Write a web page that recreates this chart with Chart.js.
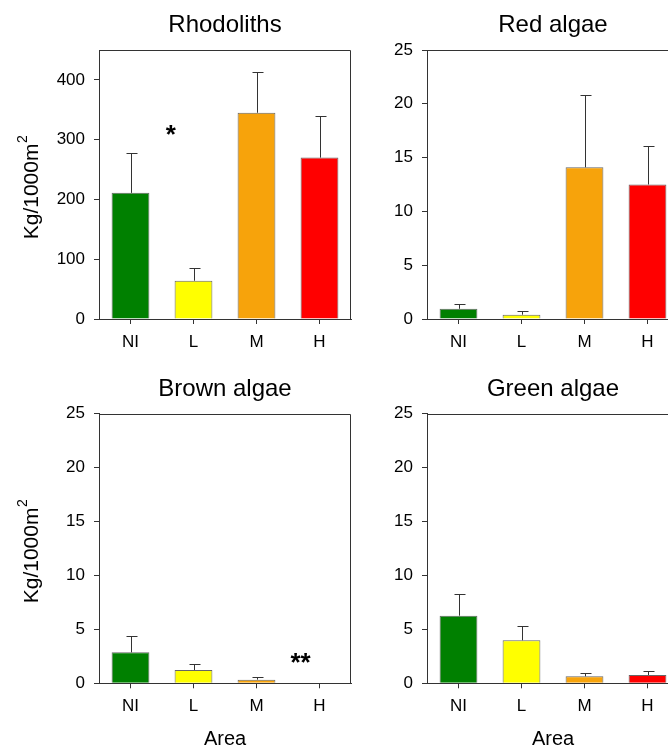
<!DOCTYPE html>
<html><head><meta charset="utf-8">
<script src="https://cdn.jsdelivr.net/npm/chart.js@4/dist/chart.umd.min.js"></script>
<style>
html,body{margin:0;padding:0;background:#fff;overflow:hidden;width:668px;height:749px;position:relative;}
canvas{position:absolute;}
</style></head><body>
<canvas id="c1" width="360" height="370" style="left:0;top:0"></canvas>
<canvas id="c2" width="354" height="370" style="left:334px;top:0"></canvas>
<canvas id="c3" width="360" height="379" style="left:0;top:370px"></canvas>
<canvas id="c4" width="354" height="379" style="left:334px;top:370px"></canvas>
<script>
const areas = ['NI', 'L', 'M', 'H'];
const barColors = ['#008000', '#FFFF00', '#F7A30B', '#FF0000'];
const rhodolithsMean = [211, 64, 345, 270];
const rhodolithsSE = [66, 21, 68, 70];
const redMean = [0.95, 0.4, 14.1, 12.5];
const redSE = [0.45, 0.37, 6.7, 3.6];
const brownMean = [2.87, 1.23, 0.34, 0];
const brownSE = [1.52, 0.59, 0.22, 0];
const greenMean = [6.27, 3.99, 0.65, 0.77];
const greenSE = [2.01, 1.32, 0.30, 0.40];
const rhodolithsTicks = [0, 100, 200, 300, 400];
const algaeTicks = [0, 5, 10, 15, 20, 25];
const rhodolithsStars = [{ x: 0.64, y: 306, text: '*' }];
const brownStars = [{ x: 2.70, y: 1.8, text: '**' }];
const yTitleMain = 'Kg/1000m';
const yTitleSup = '2';

const FAMILY = '"Liberation Sans", Arial, Helvetica, sans-serif';
const AXIS = '#333333';

const extras = {
  id: 'extras',
  afterDatasetsDraw(chart, args, opts) {
    const { ctx, chartArea } = chart;
    const xs = chart.scales.x, ys = chart.scales.y;
    const ds = chart.data.datasets[0];
    const meta = chart.getDatasetMeta(0);
    ctx.save();
    // frame top and right
    ctx.strokeStyle = AXIS;
    ctx.lineWidth = 1;
    ctx.beginPath();
    const L = Math.round(chartArea.left) + 0.5, T = Math.round(chartArea.top) + 0.5;
    const R = Math.round(chartArea.right) - 0.5, B = Math.round(chartArea.bottom) + 0.5;
    ctx.moveTo(L, T); ctx.lineTo(R, T); ctx.lineTo(R, B);
    ctx.stroke();
    // error bars
    ctx.strokeStyle = '#333';
    meta.data.forEach((bar, i) => {
      const e = ds.errors[i];
      if (!e) return;
      const x = Math.round(bar.x) + 0.5;
      const y1 = Math.round(ys.getPixelForValue(ds.data[i] + e)) + 0.5;
      ctx.beginPath();
      ctx.moveTo(x, bar.y);
      ctx.lineTo(x, y1);
      ctx.moveTo(x - 5, y1);
      ctx.lineTo(x + 6, y1);
      ctx.stroke();
    });
    // significance marks
    (opts.stars || []).forEach(s => {
      ctx.fillStyle = '#000';
      ctx.font = 'bold 26px ' + FAMILY;
      ctx.textAlign = 'center';
      ctx.textBaseline = 'middle';
      ctx.fillText(s.text, xs.getPixelForValue(s.x), ys.getPixelForValue(s.y));
    });
    // y axis title with superscript
    if (opts.yTitle) {
      const cy = (chartArea.top + chartArea.bottom) / 2 + 3;
      ctx.translate(38, cy);
      ctx.rotate(-Math.PI / 2);
      ctx.fillStyle = '#000';
      ctx.textAlign = 'left';
      ctx.textBaseline = 'alphabetic';
      ctx.font = '21px ' + FAMILY;
      const w1 = ctx.measureText(yTitleMain).width;
      ctx.font = '14px ' + FAMILY;
      const w2 = ctx.measureText(yTitleSup).width;
      const start = -(w1 + w2) / 2;
      ctx.font = '21px ' + FAMILY;
      ctx.fillText(yTitleMain, start, 0);
      ctx.font = '14px ' + FAMILY;
      ctx.fillText(yTitleSup, start + w1 + 0.5, -11);
    }
    ctx.restore();
  }
};

function makeChart(id, c) {
  return new Chart(document.getElementById(id), {
    type: 'bar',
    data: {
      labels: areas,
      datasets: [{
        data: c.mean,
        errors: c.se,
        backgroundColor: barColors,
        borderColor: '#666666',
        borderWidth: 1,
        barPercentage: 0.6,
        categoryPercentage: 1.0
      }]
    },
    plugins: [extras],
    options: {
      responsive: false,
      animation: false,
      devicePixelRatio: 1,
      layout: { padding: { left: 0, right: 9, top: 0, bottom: 0 } },
      plugins: {
        legend: { display: false },
        tooltip: { enabled: false },
        title: {
          display: true, text: c.title, color: '#000', fullSize: false,
          font: { size: 24, weight: 'normal', family: FAMILY, lineHeight: 1.2 },
          padding: { top: c.tp, bottom: c.bp }
        },
        extras: { stars: c.stars, yTitle: c.yTitle }
      },
      scales: {
        x: {
          afterFit: ax => { ax.height = c.xH; },
          grid: { offset: false, drawOnChartArea: false, drawTicks: true, tickLength: 5, color: AXIS },
          border: { display: true, color: AXIS, width: 1 },
          ticks: { padding: 8, color: '#000', font: { size: 17, family: FAMILY } },
          title: {
            display: c.xTitle, text: 'Area', color: '#000',
            font: { size: 20, family: FAMILY, lineHeight: 1 },
            padding: { top: 0, bottom: 0 }
          }
        },
        y: {
          min: 0, max: c.yMax,
          afterBuildTicks: ax => { ax.ticks = c.ticks.map(v => ({ value: v })); },
          afterFit: ax => { ax.width = c.yW; },
          grid: { drawOnChartArea: false, drawTicks: true, tickLength: 5, color: AXIS },
          border: { display: true, color: AXIS, width: 1 },
          ticks: { padding: 9, color: '#000', font: { size: 17, family: FAMILY } }
        }
      }
    }
  });
}

makeChart('c1', { title: 'Rhodoliths', mean: rhodolithsMean, se: rhodolithsSE, ticks: rhodolithsTicks, yMax: 450,
  yW: 99, xH: 51, tp: 11, bp: 10.2, yTitle: true, xTitle: false, stars: rhodolithsStars });
makeChart('c2', { title: 'Red algae', mean: redMean, se: redSE, ticks: algaeTicks, yMax: 25,
  yW: 93, xH: 51, tp: 11, bp: 10.2, yTitle: false, xTitle: false, stars: [] });
makeChart('c3', { title: 'Brown algae', mean: brownMean, se: brownSE, ticks: algaeTicks, yMax: 25,
  yW: 99, xH: 65.7, tp: 5, bp: 9.9, yTitle: true, xTitle: true, stars: brownStars });
makeChart('c4', { title: 'Green algae', mean: greenMean, se: greenSE, ticks: algaeTicks, yMax: 25,
  yW: 93, xH: 65.7, tp: 5, bp: 9.9, yTitle: false, xTitle: true, stars: [] });
</script>
</body></html>
